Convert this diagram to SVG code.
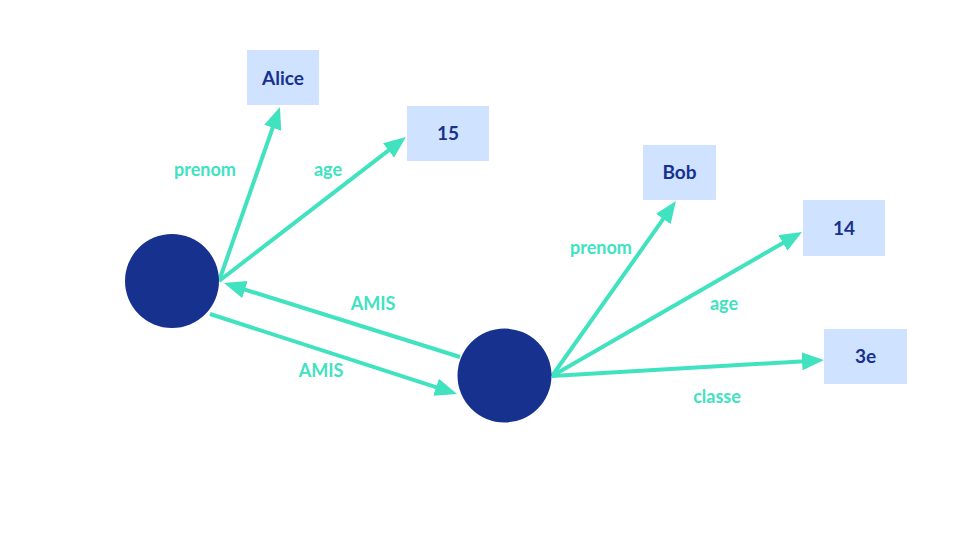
<svg xmlns="http://www.w3.org/2000/svg" width="960" height="540" viewBox="0 0 960 540">
<style>
.node{fill:#17318e}
.box{fill:#cfe2ff}
.val{font-family:Lato,"Liberation Sans",sans-serif;font-weight:bold;font-size:19px;fill:#17318e;text-anchor:middle}
.edge{stroke:#40e2bf;stroke-width:4;fill:none;marker-end:url(#ah)}
.lbl{font-family:Lato,"Liberation Sans",sans-serif;font-weight:bold;font-size:18px;fill:#40e2bf;text-anchor:middle}
</style>
<defs>
<marker id="ah" markerUnits="userSpaceOnUse" markerWidth="22" markerHeight="18" refX="16" refY="9" orient="auto" viewBox="0 0 22 18">
<path d="M0,0 L22,9 L0,18 z" fill="#40e2bf"/>
</marker>
</defs>
<rect width="960" height="540" fill="#ffffff"/>
<g id="connectors">
<line class="edge" x1="219" y1="281" x2="278" y2="112.7"/>
<line class="edge" x1="219" y1="281" x2="401.2" y2="140.7"/>
<line class="edge" x1="460" y1="357" x2="229.7" y2="284.8"/>
<line class="edge" x1="210" y1="314" x2="451.3" y2="392.2"/>
<line class="edge" x1="552" y1="376" x2="672.5" y2="205.9"/>
<line class="edge" x1="552" y1="376" x2="796.8" y2="235"/>
<line class="edge" x1="552" y1="376" x2="818" y2="360.4"/>
<text class="lbl" x="205" y="176">prenom</text>
<text class="lbl" x="328" y="176">age</text>
<text class="lbl" x="373" y="310">AMIS</text>
<text class="lbl" x="321" y="377">AMIS</text>
<text class="lbl" x="601" y="254">prenom</text>
<text class="lbl" x="724" y="310">age</text>
<text class="lbl" x="717" y="403">classe</text>
</g>
<g id="alice-node"><circle class="node" cx="172" cy="281" r="47"/></g>
<g id="bob-node"><circle class="node" cx="504.5" cy="375.5" r="47"/></g>
<g id="alice"><rect class="box" x="247" y="50" width="72" height="55"/><text class="val" x="283" y="84.5">Alice</text></g>
<g id="v15"><rect class="box" x="407" y="106" width="82" height="55"/><text class="val" x="448" y="140">15</text></g>
<g id="bob"><rect class="box" x="643" y="145" width="73" height="55"/><text class="val" x="679.5" y="179">Bob</text></g>
<g id="v14"><rect class="box" x="803" y="200" width="82" height="56"/><text class="val" x="844" y="234.5">14</text></g>
<g id="v3e"><rect class="box" x="824" y="329" width="83" height="55"/><text class="val" x="865.5" y="363">3e</text></g>
</svg>
